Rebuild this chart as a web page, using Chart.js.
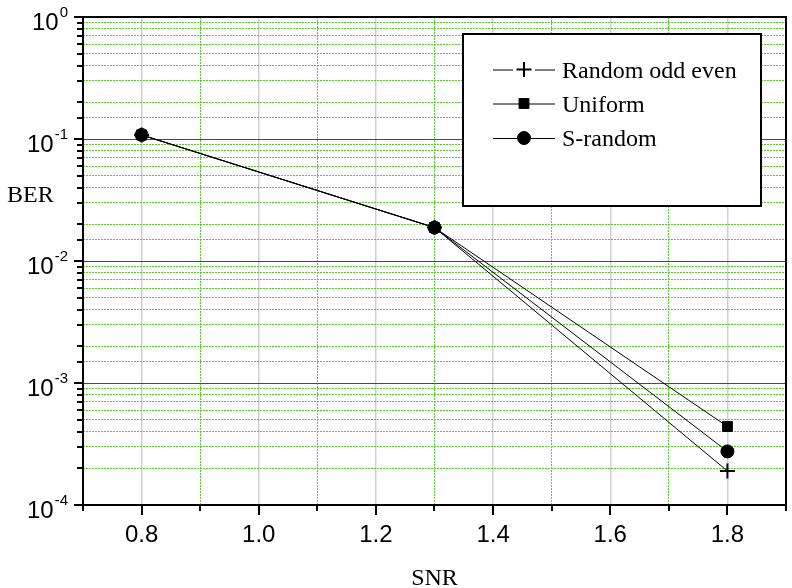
<!DOCTYPE html>
<html>
<head>
<meta charset="utf-8">
<script src="https://cdn.jsdelivr.net/npm/chart.js@4/dist/chart.umd.min.js"></script>
<style>
  html, body { margin: 0; padding: 0; background: #fff; }
  #wrap { width: 792px; height: 588px; }
</style>
</head>
<body>
<div id="wrap"><canvas id="ber" width="792" height="588"></canvas></div>
<script>
// values
const snr = [0.8, 1.3, 1.8];
const randomOddEven = [0.108, 0.0188, 0.00019];
const uniform = [0.108, 0.0188, 0.00044];
const sRandom = [0.108, 0.0188, 0.000275];
const seriesNames = ["Random odd even", "Uniform", "S-random"];
const seriesMarkers = ["cross", "rect", "circle"];
const xTickLabels = ["0.8", "1.0", "1.2", "1.4", "1.6", "1.8"];
const yTickExponents = ["0", "-1", "-2", "-3", "-4"];

const SANS = "'Liberation Sans', Arial, sans-serif";
const SERIF = "'Liberation Serif', 'Times New Roman', serif";
const GREEN = "#5cc832";
const BLUE = "#2846bc";
const markerRadius = { cross: 7.5, rect: 7, circle: 6.5 };

const isMajorX = (v) => Math.round(v * 10) % 2 === 0;
const isDecade = (v) => {
  const l = Math.log10(v);
  return Math.abs(l - Math.round(l)) < 1e-6;
};

function toPoints(vals) {
  return snr.map((x, i) => ({ x, y: vals[i] }));
}

function makeSet(idx, vals, order) {
  const style = seriesMarkers[idx];
  return {
    label: seriesNames[idx],
    data: toPoints(vals),
    order,
    borderColor: "#000",
    borderWidth: 1,
    backgroundColor: "#000",
    pointStyle: style,
    pointRadius: markerRadius[style],
    pointBorderWidth: style === "cross" ? 2 : 1,
    pointBackgroundColor: "#000",
    pointBorderColor: "#000",
    tension: 0,
  };
}

const frame = {
  id: "frame",
  afterDraw(chart) {
    const { ctx, chartArea: a, scales } = chart;
    const x = scales.x, y = scales.y;
    ctx.save();

    // tick marks, outside
    ctx.strokeStyle = "#000";
    ctx.lineWidth = 2;
    ctx.beginPath();
    x.ticks.forEach((t) => {
      const px = Math.round(x.getPixelForValue(t.value));
      ctx.moveTo(px, a.bottom);
      ctx.lineTo(px, a.bottom + (isMajorX(t.value) ? 10 : 6));
    });
    y.ticks.forEach((t) => {
      const py = Math.round(y.getPixelForValue(t.value));
      ctx.moveTo(a.left, py);
      ctx.lineTo(a.left - (isDecade(t.value) ? 9 : 6), py);
    });
    ctx.stroke();

    // y tick labels 10^n
    ctx.fillStyle = "#000";
    y.ticks.forEach((t) => {
      if (!isDecade(t.value)) return;
      const exp = String(Math.round(Math.log10(t.value)));
      if (!yTickExponents.includes(exp)) return;
      const py = y.getPixelForValue(t.value);
      const right = 68;
      ctx.font = "15px " + SANS;
      const ew = ctx.measureText(exp).width;
      ctx.textAlign = "left";
      ctx.textBaseline = "alphabetic";
      ctx.fillText(exp, right - ew, py);
      ctx.font = "24px " + SANS;
      ctx.textAlign = "right";
      ctx.fillText("10", right - ew - 1, py + 12.5);
    });

    // axis titles
    ctx.font = "24px " + SERIF;
    ctx.textAlign = "left";
    ctx.fillText("BER", 7, 202);
    ctx.textAlign = "center";
    ctx.fillText("SNR", (a.left + a.right) / 2, 585);

    // legend
    const box = { l: 463, t: 34, r: 761, b: 206 };
    ctx.fillStyle = "#fff";
    ctx.fillRect(box.l, box.t, box.r - box.l, box.b - box.t);
    ctx.strokeStyle = "#000";
    ctx.lineWidth = 2;
    ctx.strokeRect(box.l, box.t, box.r - box.l, box.b - box.t);
    const rows = [69.5, 103.5, 138];
    seriesNames.forEach((name, i) => {
      const ry = rows[i];
      const style = seriesMarkers[i];
      const gap = style === "cross" ? 11 : 0;
      ctx.strokeStyle = "#000";
      ctx.lineWidth = 1;
      ctx.beginPath();
      ctx.moveTo(493, ry + 0.5);
      ctx.lineTo(524 - gap, ry + 0.5);
      ctx.moveTo(524 + gap, ry + 0.5);
      ctx.lineTo(555, ry + 0.5);
      ctx.stroke();
      ctx.fillStyle = "#000";
      ctx.lineWidth = style === "cross" ? 2 : 1;
      Chart.helpers.drawPoint(ctx, {
        pointStyle: style,
        radius: markerRadius[style],
        borderWidth: ctx.lineWidth,
        rotation: 0,
      }, 524, ry);
      ctx.fillStyle = "#000";
      ctx.font = "24px " + SERIF;
      ctx.textAlign = "left";
      ctx.textBaseline = "alphabetic";
      ctx.fillText(name, 562, ry + 8);
    });

    // plot frame
    ctx.strokeStyle = "#000";
    ctx.lineWidth = 2;
    ctx.strokeRect(a.left, a.top, a.right - a.left, a.bottom - a.top);
    ctx.restore();
  },
};

new Chart(document.getElementById("ber"), {
  type: "line",
  data: {
    datasets: [
      makeSet(0, randomOddEven, 2),
      makeSet(1, uniform, 1),
      makeSet(2, sRandom, 0),
    ],
  },
  options: {
    responsive: false,
    animation: false,
    devicePixelRatio: 1,
    layout: { autoPadding: false, padding: { left: 0, right: 6, top: 17, bottom: 0 } },
    plugins: {
      legend: { display: false },
      tooltip: { enabled: false },
    },
    scales: {
      x: {
        type: "linear",
        min: 0.7,
        max: 1.9,
        afterFit: (s) => {
          s.height = 83;
          s.paddingLeft = 0;
          s.paddingRight = 0;
        },
        ticks: {
          stepSize: 0.1,
          autoSkip: false,
          maxRotation: 0,
          padding: 16,
          color: "#000",
          font: { family: SANS, size: 24 },
          callback: (v) => {
            const s = Number(v).toFixed(1);
            return xTickLabels.includes(s) ? s : "";
          },
        },
        grid: {
          drawTicks: false,
          color: (c) => (c.tick && isMajorX(c.tick.value) ? "#cfcfcf" : GREEN),
          lineWidth: (c) => (c.tick && isMajorX(c.tick.value) ? 1.5 : 1),
        },
        border: {
          display: false,
          dash: (c) => (c.tick && !isMajorX(c.tick.value) ? [2, 1] : []),
        },
      },
      y: {
        type: "logarithmic",
        min: 1e-4,
        max: 1,
        afterFit: (s) => {
          s.width = 83;
          s.paddingTop = 0;
          s.paddingBottom = 0;
        },
        ticks: { display: false, autoSkip: false },
        grid: {
          drawTicks: false,
          color: (c) => (c.tick && isDecade(c.tick.value) ? BLUE : GREEN),
          lineWidth: 1,
        },
        border: {
          display: false,
          dash: (c) => (c.tick && !isDecade(c.tick.value) ? [2, 1] : []),
        },
      },
    },
  },
  plugins: [frame],
});
</script>
</body>
</html>
